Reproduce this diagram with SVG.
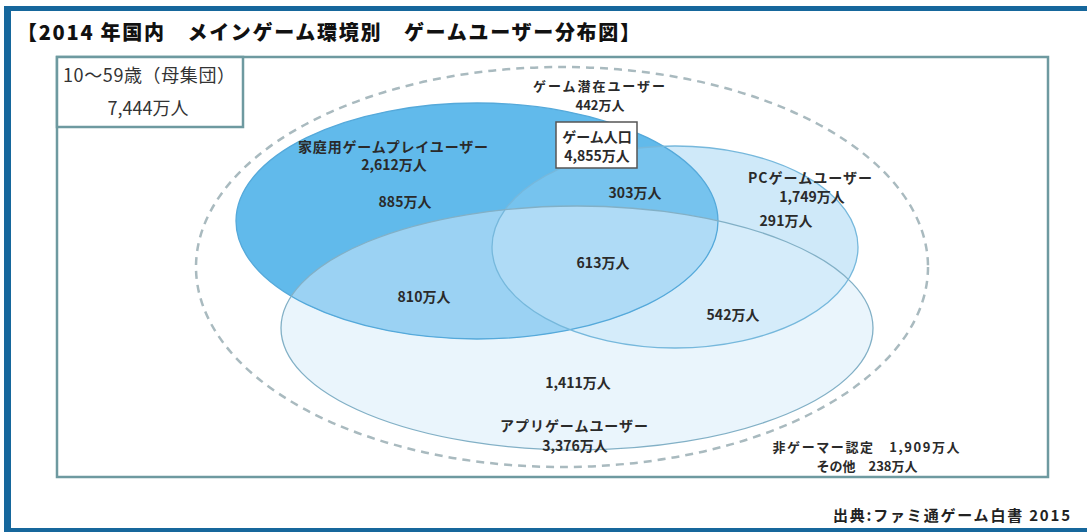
<svg xmlns="http://www.w3.org/2000/svg" width="1087" height="532" viewBox="0 0 1087 532">
<style>
.t{font-family:"Noto Sans CJK JP","Noto Sans",sans-serif;fill:#2a2a2a;font-weight:bold;font-size:14px;text-anchor:middle}
.s{font-size:13px}
.r{font-family:"Noto Sans CJK JP","Noto Sans",sans-serif;fill:#333;font-size:18px;text-anchor:middle}
.edge{fill:none;stroke-width:1.3}
</style>
<defs>
<clipPath id="cA"><ellipse cx="577" cy="328" rx="296" ry="122"/></clipPath>
<clipPath id="cP"><ellipse cx="675" cy="247" rx="183" ry="101"/></clipPath>
</defs>
<rect x="0" y="0" width="1087" height="532" fill="#ffffff"/>
<g id="border" fill="#16679c">
<rect x="4" y="6" width="1083" height="5"/>
<rect x="4" y="6" width="7" height="526"/>
<rect x="4" y="528" width="1083" height="4"/>
</g>
<text x="17" y="40" font-family="'Noto Sans CJK JP',sans-serif" font-weight="900" font-size="20" fill="#111" textLength="623" lengthAdjust="spacing">【2014 年国内　メインゲーム環境別　ゲームユーザー分布図】</text>
<rect id="frame" x="57" y="57" width="991" height="420" fill="none" stroke="#6e9aa0" stroke-width="2.5"/>
<g id="population">
<rect x="57" y="57" width="186" height="70" fill="#ffffff" stroke="#6e9aa0" stroke-width="2.5"/>
<text class="r" x="149" y="82" textLength="172" lengthAdjust="spacing">10～59歳（母集団）</text>
<text class="r" x="148" y="115">7,444万人</text>
</g>
<g id="potential">
<ellipse cx="562" cy="267" rx="366" ry="200" fill="none" stroke="#a9babf" stroke-width="2.5" stroke-dasharray="8 6"/>
</g>
<g id="fills">
<ellipse cx="577" cy="328" rx="296" ry="122" fill="#eaf5fc"/>
<ellipse cx="675" cy="247" rx="183" ry="101" fill="#cfe9f9"/>
<ellipse cx="477" cy="221" rx="241" ry="118" fill="#61baeb"/>
<ellipse cx="675" cy="247" rx="183" ry="101" fill="#d5ecfa" clip-path="url(#cA)"/>
<ellipse cx="477" cy="221" rx="241" ry="118" fill="#76c3ee" clip-path="url(#cP)"/>
<ellipse cx="477" cy="221" rx="241" ry="118" fill="#9bd2f3" clip-path="url(#cA)"/>
<g clip-path="url(#cP)"><ellipse cx="477" cy="221" rx="241" ry="118" fill="#afdbf6" clip-path="url(#cA)"/></g>
</g>
<g id="console">
<ellipse class="edge" cx="477" cy="221" rx="241" ry="118" stroke="#55a9da"/>
<text class="t" x="393" y="152" textLength="190" lengthAdjust="spacing">家庭用ゲームプレイユーザー</text>
<text class="t" x="394" y="170">2,612万人</text>
<text class="t" x="405" y="207">885万人</text>
</g>
<g id="pc">
<ellipse class="edge" cx="675" cy="247" rx="183" ry="101" stroke="#76b8dc"/>
<text class="t" x="810" y="183" textLength="124" lengthAdjust="spacing">PCゲームユーザー</text>
<text class="t" x="812" y="202">1,749万人</text>
<text class="t" x="786" y="226">291万人</text>
</g>
<g id="app">
<ellipse class="edge" cx="577" cy="328" rx="296" ry="122" stroke="#82b0c6"/>
<text class="t" x="574" y="431" textLength="148" lengthAdjust="spacing">アプリゲームユーザー</text>
<text class="t" x="575" y="451">3,376万人</text>
<text class="t" x="578" y="388">1,411万人</text>
</g>
<g id="overlaps">
<text class="t" x="635" y="198">303万人</text>
<text class="t" x="603" y="268">613万人</text>
<text class="t" x="424" y="302">810万人</text>
<text class="t" x="733" y="320">542万人</text>
</g>
<g id="potential-label">
<text class="t s" x="599" y="91" textLength="132" lengthAdjust="spacing">ゲーム潜在ユーザー</text>
<text class="t s" x="600" y="110">442万人</text>
</g>
<g id="game-population">
<rect x="556" y="122" width="81" height="46" fill="#ffffff" stroke="#555" stroke-width="1.5"/>
<text class="t" x="597" y="142">ゲーム人口</text>
<text class="t" x="597" y="161">4,855万人</text>
</g>
<g id="non-gamer">
<text class="t s" x="866" y="452" textLength="187" lengthAdjust="spacing">非ゲーマー認定　1,909万人</text>
<text class="t s" x="867" y="471">その他　238万人</text>
</g>
<text x="1070" y="521" font-family="'Noto Sans CJK JP',sans-serif" font-weight="bold" font-size="15" fill="#222" text-anchor="end" textLength="237" lengthAdjust="spacing">出典:ファミ通ゲーム白書 2015</text>
<g id="connectors"/>
</svg>
